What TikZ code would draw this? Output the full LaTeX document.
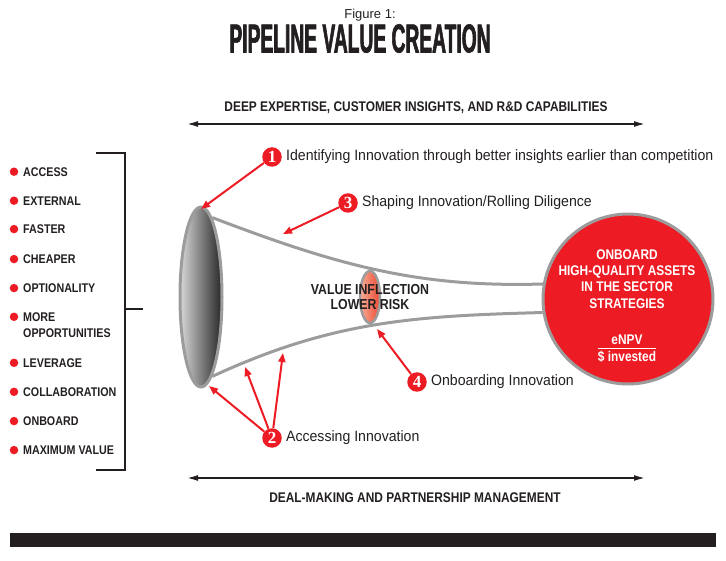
\documentclass[tikz,border=0pt]{standalone}
\usepackage{fontspec}
\setmainfont{Liberation Sans}
\newfontfamily\condfont[FakeStretch=0.85]{Liberation Sans}
\newfontfamily\titlefont[FakeStretch=0.475,FakeBold=1.5]{Liberation Sans}
\newfontfamily\bodyfont[FakeStretch=0.94]{Liberation Sans}
\newfontfamily\numfont{Liberation Serif}
\usetikzlibrary{positioning,arrows.meta,calc,shapes.geometric,backgrounds}
\definecolor{pipered}{HTML}{ED1C24}
\definecolor{funnelgray}{HTML}{9C9C9C}
\definecolor{barblack}{HTML}{231F20}
\definecolor{salmon}{HTML}{F7AC96}
\definecolor{flame}{HTML}{EE4A33}

\begin{document}
\begin{tikzpicture}[
    x=1pt, y=-1pt,
    >=Latex,
    heading/.style={font=\condfont\bfseries\fontsize{14}{16}\selectfont, anchor=base, inner sep=0pt, text=barblack},
    itemtxt/.style={font=\condfont\bfseries\fontsize{12.6}{16}\selectfont, anchor=base west, inner sep=0pt, align=left, text=barblack},
    dot/.style={circle, fill=pipered, minimum size=8.5pt, inner sep=0pt},
    numbadge/.style={circle, fill=pipered, minimum size=19.5pt, inner sep=0pt, text=white,
      font=\numfont\bfseries\fontsize{17}{17}\selectfont},
    note/.style={font=\bodyfont\fontsize{15}{17}\selectfont, inner sep=0pt, text=barblack},
    span/.style={{Latex[length=11pt,width=6pt]}-{Latex[length=11pt,width=6pt]}, line width=1.6pt, draw=barblack},
    pointer/.style={-{Triangle[length=9pt,width=7pt]}, draw=pipered, line width=2pt},
    rim/.style={draw=funnelgray, line width=3pt},
    mouth/.style={ellipse, rim, left color=black!15, right color=black!85, minimum width=42pt, minimum height=180pt},
    inflbox/.style={ellipse, draw=funnelgray, line width=2.5pt, left color=salmon, right color=flame, minimum width=20pt, minimum height=52pt},
    goal/.style={circle, rim, fill=pipered, minimum size=170pt},
    goaltxt/.style={font=\condfont\bfseries\fontsize{14}{16.3}\selectfont, text=white, align=center, inner sep=0pt},
    bracket/.style={draw=barblack, line width=1.2pt}
  ]
    \useasboundingbox (0,0) rectangle (726,561);

    % title
    \node[font=\fontsize{13}{15}\selectfont, anchor=base, text=barblack] (fig) at (370,18.5) {Figure 1:};
    \node[font=\titlefont\bfseries\fontsize{40.5}{42}\selectfont, anchor=base, text=barblack] (title) at (360,52.5)
      {PIPELINE VALUE CREATION};

    % spans
    \node[heading] (expertise) at (416,112) {DEEP EXPERTISE, CUSTOMER INSIGHTS, AND R\&D CAPABILITIES};
    \coordinate (topl) at (187,124);
    \coordinate (topr) at (645,124);
    \draw[span] (topl) -- (topr);
    \coordinate (botl) at (187,478);
    \coordinate (botr) at (645,478);
    \draw[span] (botl) -- (botr);
    \node[heading] (dealmaking) at (415,502) {DEAL-MAKING AND PARTNERSHIP MANAGEMENT};

    % bullet list (base = last line)
    \foreach \name/\y/\dy/\txt in {access/176.3/171.7/ACCESS, external/205.3/200.7/EXTERNAL,
        faster/233.7/229.1/FASTER, cheaper/263.7/259.1/CHEAPER, option/292.7/288.1/OPTIONALITY,
        more/337.4/316.8/{MORE\\OPPORTUNITIES}, leverage/367.4/362.8/LEVERAGE,
        collab/396.4/391.8/COLLABORATION, onboard/425.7/421.1/ONBOARD,
        maxval/454.7/450.1/MAXIMUM VALUE} {
      \node[itemtxt] (\name) at (23,\y) {\txt};
      \node[dot] (\name dot) at (14,\dy) {};
    }
    \draw[bracket] (96,153) -| (125,470) -- (96,470);
    \draw[bracket] (125,309) -- (143,309);

    % funnel
    \node[mouth] (mouth) at (201,297) {};
    \node[inflbox] (infl) at (370,297) {};
    \node[goal] (onb) at (628,299) {};
    \begin{scope}[on background layer]
      \draw[rim] (mouth.82) .. controls (332,263) and (414,288) .. (onb.170);
      \draw[rim] (mouth.-82) .. controls (332,321) and (414,316) .. (onb.189);
    \end{scope}
    \node[font=\condfont\bfseries\fontsize{14.5}{15}\selectfont, align=center, inner sep=0pt, text=barblack]
      (infltxt) at (370,297) {VALUE INFLECTION\\LOWER RISK};

    \node[goaltxt] (onbtxt) at (627,279) {ONBOARD\\HIGH-QUALITY ASSETS\\IN THE SECTOR\\STRATEGIES};
    \node[goaltxt, anchor=base] (enpv) at (627,345) {eNPV};
    \node[goaltxt, anchor=base] (inv) at (627,362) {\$ invested};
    \draw[white, line width=1pt] ([yshift=3pt]inv.north west) -- ([yshift=3pt]inv.north east);

    % numbered notes
    \node[numbadge] (n1) at (272,157) {1};
    \node[note, right=4pt of n1] (l1) {Identifying Innovation through better insights earlier than competition};
    \node[numbadge] (n3) at (348,203) {3};
    \node[note, right=4pt of n3] (l3) {Shaping Innovation/Rolling Diligence};
    \node[numbadge] (n4) at (417,382) {4};
    \node[note, right=4pt of n4] (l4) {Onboarding Innovation};
    \node[numbadge] (n2) at (272,438) {2};
    \node[note, right=4pt of n2] (l2) {Accessing Innovation};

    \coordinate (t1) at (201,209);
    \coordinate (t3) at (283,234);
    \coordinate (t4) at (377,329);
    \coordinate (t2a) at (209,386);
    \coordinate (t2b) at (245,367);
    \coordinate (t2c) at (283,353);
    \draw[pointer] (n1) -- (t1);
    \draw[pointer] (n3) -- (t3);
    \draw[pointer] (n4) -- (t4);
    \draw[pointer] (n2) -- (t2a);
    \draw[pointer] (n2) -- (t2b);
    \draw[pointer] (n2) -- (t2c);

    % footer bar
    \node[fill=barblack, minimum width=706pt, minimum height=14pt, inner sep=0pt] (bar) at (363,540) {};
  \end{tikzpicture}
\end{document}
